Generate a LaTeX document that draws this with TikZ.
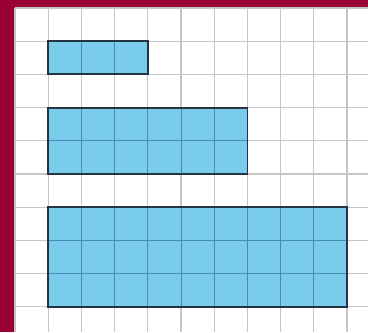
\documentclass[tikz,border=0pt]{standalone}
\usepackage{tikz}

\definecolor{frameRed}{RGB}{152,0,54}
\definecolor{barBlue}{RGB}{122,204,236}
\definecolor{barEdge}{RGB}{38,52,66}
\definecolor{cellEdge}{RGB}{72,140,180}

\begin{document}
\begin{tikzpicture}[
    gridline/.style={draw=gray!45, line width=1pt},
    bar/.style={fill=barBlue, draw=barEdge, line width=1.6pt},
    cell/.style={draw=cellEdge, line width=0.8pt}
]

\useasboundingbox (-1.45,-8.76) rectangle (9.63,1.24);

% frame and paper
\fill[frameRed] (-1.45,-8.76) rectangle (9.63,1.24);
\fill[white] (-1,-8.76) rectangle (9.63,1);
\draw[gridline] (-1,-8.76) grid (9.63,1);

% the three bars
\foreach \w/\h/\y in {3/1/0, 6/2/-2, 9/3/-5} {
    \fill[barBlue] (0,\y) rectangle (\w,\y-\h);
    \draw[cell] (0,\y) grid (\w,\y-\h);
    \draw[bar, fill=none] (0,\y) rectangle (\w,\y-\h);
}

\end{tikzpicture}
\end{document}
